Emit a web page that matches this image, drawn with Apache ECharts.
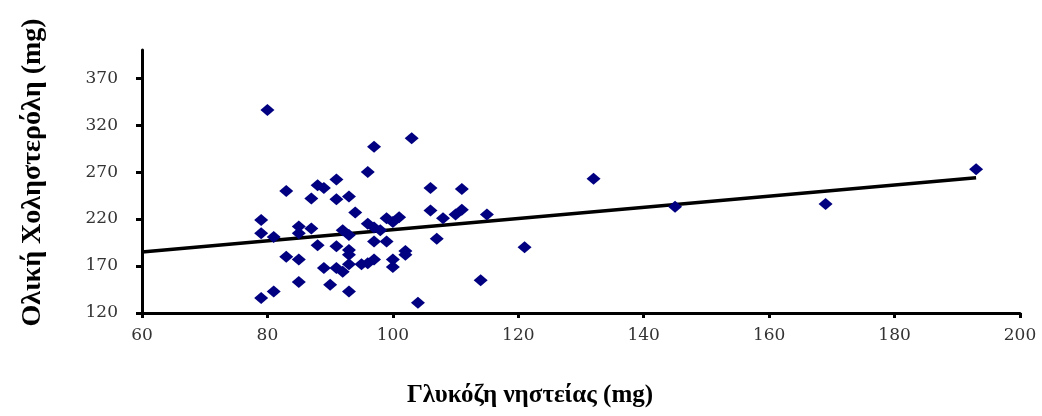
<!DOCTYPE html>
<html>
<head>
<meta charset="utf-8">
<script src="https://cdn.jsdelivr.net/npm/echarts@6/dist/echarts.min.js"></script>
<style>
  html, body { margin: 0; padding: 0; background: #ffffff; }
  #chart { width: 1042px; height: 416px; }
</style>
</head>
<body>
<div id="chart"></div>
<script>
// Fasting glucose (mg) for each subject
const glucose = [
  80, 83, 88, 89, 91, 87, 91, 79, 79, 81, 85, 87, 85, 88, 91, 83, 85, 89, 91, 85, 90, 79, 81,
  97, 103, 96, 93, 94, 106, 111, 106, 111, 110, 108, 115, 99, 101, 100, 96, 97, 98, 92, 93,
  93, 93, 97, 99, 107, 102, 102, 92, 93, 95, 96, 97, 100, 100, 121, 114, 93, 104,
  132, 145, 169, 193
];
// Total cholesterol (mg) for each subject
const cholesterol = [
  336, 250, 256, 253, 262, 242, 241, 219, 205, 201, 212, 210, 205, 192, 191, 180, 177, 168, 168, 153, 150, 136, 143,
  297, 306, 270, 244, 227, 253, 252, 229, 230, 225, 221, 225, 221, 222, 217, 215, 211, 208, 208, 203,
  187, 182, 196, 196, 199, 186, 182, 164, 172, 172, 173, 177, 177, 169, 190, 155, 143, 131,
  263, 233, 236, 273
];
// Linear trend line end points
const trendX = [60, 193];
const trendY = [185, 264];
// Axis tick labels
const xTicks = [60, 80, 100, 120, 140, 160, 180, 200];
const yTicks = [120, 170, 220, 270, 320, 370];

const points = glucose.map((g, i) => [g, cholesterol[i]]);
const trend = trendX.map((x, i) => [x, trendY[i]]);

const serif = '"Liberation Serif", "DejaVu Serif", serif';
const tickFont = '"DejaVu Serif", "Liberation Serif", serif';
const chart = echarts.init(document.getElementById('chart'), null, { renderer: 'canvas' });

chart.setOption({
  backgroundColor: '#ffffff',
  animation: false,
  grid: { left: 142, right: 22, top: 50, bottom: 103, containLabel: false },
  xAxis: {
    type: 'value',
    min: xTicks[0],
    max: xTicks[xTicks.length - 1],
    interval: 20,
    splitLine: { show: false },
    axisLine: { show: true, onZero: false, lineStyle: { color: '#000', width: 3 } },
    axisTick: { show: true, length: 5, lineStyle: { color: '#000', width: 3 } },
    axisLabel: { color: '#333', fontFamily: tickFont, fontSize: 17, margin: 14 },
    name: 'Γλυκόζη νηστείας (mg)',
    nameLocation: 'middle',
    nameGap: 70,
    nameTextStyle: {
      fontFamily: serif, fontSize: 25, fontWeight: 'bold', color: '#000',
      padding: [0, 102, 0, 0]
    }
  },
  yAxis: {
    type: 'value',
    min: yTicks[0],
    max: 400,
    interval: 50,
    splitLine: { show: false },
    axisLine: { show: true, onZero: false, lineStyle: { color: '#000', width: 3 } },
    axisTick: { show: true, length: 6, customValues: yTicks, lineStyle: { color: '#000', width: 3 } },
    axisLabel: { color: '#333', fontFamily: tickFont, fontSize: 17, margin: 24, customValues: yTicks },
    name: 'Ολική Χοληστερόλη (mg)',
    nameLocation: 'middle',
    nameGap: 95,
    nameTextStyle: {
      fontFamily: serif, fontSize: 28, fontWeight: 'bold', color: '#000',
      padding: [0, 0, 0, 18]
    }
  },
  series: [
    {
      type: 'line',
      data: trend,
      symbol: 'none',
      lineStyle: { color: '#000', width: 3.5 },
      z: 1
    },
    {
      type: 'scatter',
      data: points,
      symbol: 'diamond',
      symbolSize: [14, 12],
      itemStyle: { color: '#000080', opacity: 1 },
      z: 2
    }
  ]
});
</script>
</body>
</html>
